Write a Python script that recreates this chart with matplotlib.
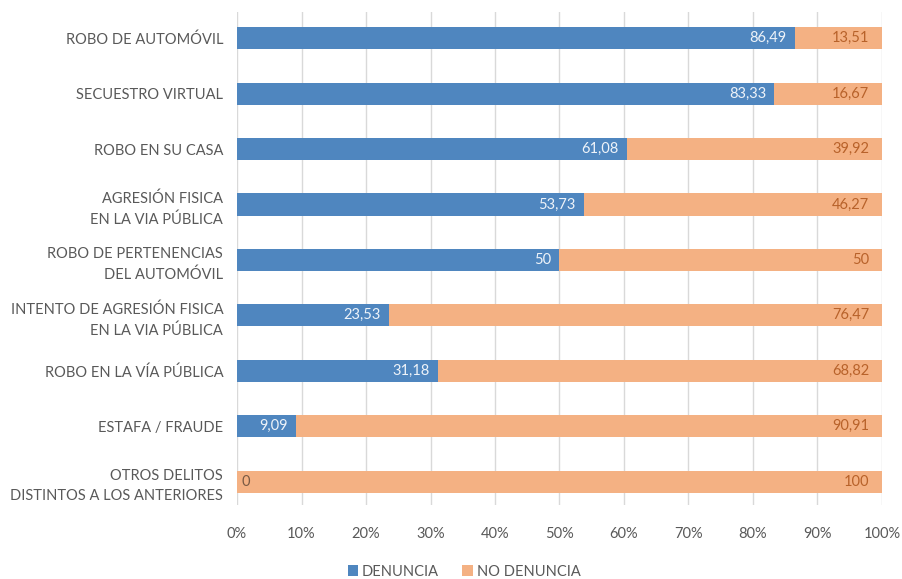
import numpy as np
import matplotlib.pyplot as plt
import matplotlib.ticker as ticker

plt.rcParams['font.family'] = ['Lato', 'DejaVu Sans']

# Datos: porcentaje de denuncia por tipo de delito
categorias = [
    "ROBO DE AUTOMÓVIL",
    "SECUESTRO VIRTUAL",
    "ROBO EN SU CASA",
    "AGRESIÓN FISICA\nEN LA VIA PÚBLICA",
    "ROBO DE PERTENENCIAS\nDEL AUTOMÓVIL",
    "INTENTO DE AGRESIÓN FISICA\nEN LA VIA PÚBLICA",
    "ROBO EN LA VÍA PÚBLICA",
    "ESTAFA / FRAUDE",
    "OTROS DELITOS\nDISTINTOS A LOS ANTERIORES",
]
denuncia = [86.49, 83.33, 61.08, 53.73, 50, 23.53, 31.18, 9.09, 0]
no_denuncia = [13.51, 16.67, 39.92, 46.27, 50, 76.47, 68.82, 90.91, 100]
etiq_denuncia = ["86,49", "83,33", "61,08", "53,73", "50", "23,53", "31,18", "9,09", "0"]
etiq_no_denuncia = ["13,51", "16,67", "39,92", "46,27", "50", "76,47", "68,82", "90,91", "100"]

azul = "#4f86bf"
naranja = "#f4b183"
gris = "#595959"

d = np.array(denuncia)
nd = np.array(no_denuncia)
tot = d + nd
d_pct = d / tot
nd_pct = nd / tot
y = np.arange(len(categorias))

fig = plt.figure(figsize=(9.03, 5.79), dpi=100)
ax = fig.add_axes([0.2625, 0.128, 0.7142, 0.851])

ax.barh(y, d_pct, height=0.4, color=azul, label="DENUNCIA", zorder=3)
ax.barh(y, nd_pct, left=d_pct, height=0.4, color=naranja, label="NO DENUNCIA", zorder=3)

# Etiquetas de valores
for i in range(len(y)):
    if d[i] > 0:
        ax.annotate(etiq_denuncia[i], (d_pct[i], y[i]), xytext=(-6, 0),
                    textcoords="offset points", ha="right", va="center",
                    color="#eef3f9", fontsize=10.5, zorder=4)
    else:
        ax.annotate(etiq_denuncia[i], (0, y[i]), xytext=(3, 0),
                    textcoords="offset points", ha="left", va="center",
                    color="#7a5a44", fontsize=10.5, zorder=4)
    ax.annotate(etiq_no_denuncia[i], (1, y[i]), xytext=(-9, 0),
                textcoords="offset points", ha="right", va="center",
                color="#b8622a", fontsize=10.5, zorder=4)

ax.set_xlim(0, 1)
ax.set_ylim(8.42, -0.47)
ax.set_yticks(y)
ax.set_yticklabels(categorias, fontsize=10.5, color=gris, linespacing=1.55)
ax.xaxis.set_major_locator(ticker.MultipleLocator(0.1))
ax.xaxis.set_major_formatter(ticker.PercentFormatter(1.0, decimals=0))
ax.tick_params(axis="x", length=0, pad=16, labelsize=10.5, labelcolor=gris)
ax.tick_params(axis="y", length=0, pad=10)
ax.grid(axis="x", color="#d9d9d9", linewidth=1, zorder=0)
for s in ax.spines.values():
    s.set_visible(False)

fig.legend(loc="lower center", bbox_to_anchor=(0.514, -0.022), ncol=2, frameon=False,
           fontsize=10.5, labelcolor=gris, handlelength=0.7, handleheight=0.7,
           handletextpad=0.3, columnspacing=1.6)

fig.savefig("out.png", dpi=100)
